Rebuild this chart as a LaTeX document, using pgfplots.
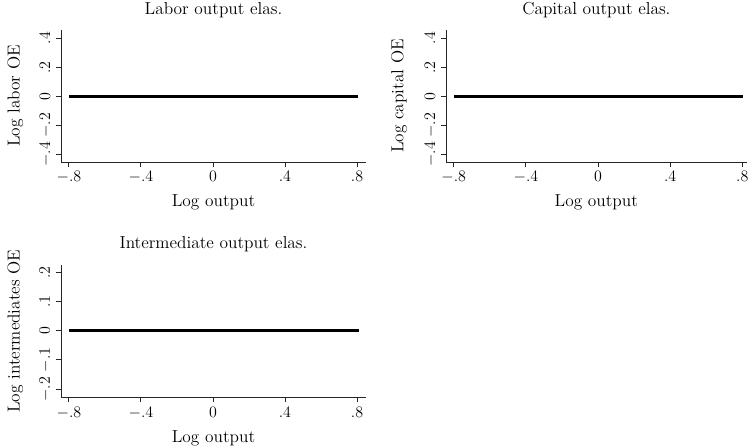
\documentclass[border=0pt]{standalone}
\usepackage{pgfplots}
\pgfplotsset{compat=1.18}
\pgfplotsset{
  stata/.style={
    scale only axis,
    axis x line*=bottom,
    axis y line*=left,
    axis line style={line width=0.7pt, color=black!85},
    every tick/.style={line width=0.7pt, color=black!85},
    tick align=outside,
    major tick length=3.75pt,
    font=\fontsize{13pt}{15pt}\selectfont,
    xtick={-0.8,-0.4,0,0.4,0.8},
    xticklabels={$-.8$,$-.4$,$0$,$.4$,$.8$},
    xticklabel style={anchor=base, inner sep=0pt},
    xticklabel shift=11.25pt,
    yticklabel style={rotate=90, anchor=base, inner sep=0pt},
    yticklabel shift=4.5pt,
    xlabel={Log output},
    xlabel style={at={(axis description cs:0.5,-0.338)}, anchor=base, inner sep=0pt},
    ylabel style={at={(axis description cs:-0.136,0.5)}, anchor=base, inner sep=0pt},
    title style={at={(axis description cs:0.5,1.055)}, anchor=base, inner sep=0pt},
    clip=false,
  }
}
\begin{document}
\begin{tikzpicture}
\useasboundingbox (0,0) rectangle (561.75pt,336pt);
% Panel 1
\begin{axis}[stata, at={(45.75pt,214.5pt)}, anchor=south west,
  width=228.75pt, height=99pt,
  xmin=-0.844, xmax=0.85, ymin=-0.453, ymax=0.457,
  ytick={-0.4,-0.2,0,0.2,0.4},
  yticklabels={$-.4$,$-.2$,$0$,$.2$,$.4$},
  ylabel={Log labor OE},
  title={Labor output elas.}]
\addplot[black, line width=2pt] coordinates {(-0.8,0) (-0.4,0) (0,0) (0.4,0) (0.807,0)};
\end{axis}
% Panel 2
\begin{axis}[stata, at={(334.5pt,214.5pt)}, anchor=south west,
  width=225.5pt, height=99pt,
  xmin=-0.843, xmax=0.824, ymin=-0.453, ymax=0.457,
  ytick={-0.4,-0.2,0,0.2,0.4},
  yticklabels={$-.4$,$-.2$,$0$,$.2$,$.4$},
  ylabel={Log capital OE},
  ylabel style={at={(axis description cs:-0.142,0.5)}},
  title={Capital output elas.}]
\addplot[black, line width=2pt] coordinates {(-0.8,0) (-0.4,0) (0,0) (0.4,0) (0.802,0)};
\end{axis}
% Panel 3
\begin{axis}[stata, at={(45.75pt,38pt)}, anchor=south west,
  width=228.75pt, height=99.2pt,
  xmin=-0.844, xmax=0.85, ymin=-0.228, ymax=0.225,
  ytick={-0.2,-0.1,0,0.1,0.2},
  yticklabels={$-.2$,$-.1$,$0$,$.1$,$.2$},
  ylabel={Log intermediates OE},
  title={Intermediate output elas.},
  title style={at={(axis description cs:0.5,1.063)}}]
\addplot[black, line width=2pt] coordinates {(-0.8,0) (-0.4,0) (0,0) (0.4,0) (0.81,0)};
\end{axis}
\end{tikzpicture}
\end{document}
